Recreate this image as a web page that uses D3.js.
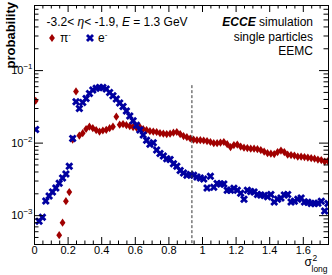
<!DOCTYPE html>
<html>
<head>
<meta charset="utf-8">
<script src="https://cdn.jsdelivr.net/npm/d3@7"></script>
<style>
  body { margin: 0; background: #fff; }
  text { font-family: "Liberation Sans", Arial, sans-serif; }
</style>
</head>
<body>
<div id="chart"></div>
<script>
// bin centres of sigma^2_long (bin width 0.02)
let binCenters = [
  0.01, 0.03, 0.05, 0.07, 0.09, 0.11, 0.13, 0.15, 0.17, 0.19,
  0.21, 0.23, 0.25, 0.27, 0.29, 0.31, 0.33, 0.35, 0.37, 0.39,
  0.41, 0.43, 0.45, 0.47, 0.49, 0.51, 0.53, 0.55, 0.57, 0.59,
  0.61, 0.63, 0.65, 0.67, 0.69, 0.71, 0.73, 0.75, 0.77, 0.79,
  0.81, 0.83, 0.85, 0.87, 0.89, 0.91, 0.93, 0.95, 0.97, 0.99,
  1.01, 1.03, 1.05, 1.07, 1.09, 1.11, 1.13, 1.15, 1.17, 1.19,
  1.21, 1.23, 1.25, 1.27, 1.29, 1.31, 1.33, 1.35, 1.37, 1.39,
  1.41, 1.43, 1.45, 1.47, 1.49, 1.51, 1.53, 1.55, 1.57, 1.59,
  1.61, 1.63, 1.65, 1.67, 1.69, 1.71, 1.73, 1.75
];

let pionProb = [
  0.0378, null, null, null, null, null, null, 0.00053, 0.000788, 0.00156,
  0.00208, 0.0110, 0.0508, 0.0125, 0.0135, 0.0154, 0.0166, 0.0158, 0.0149, 0.0142,
  0.0147, 0.0150, 0.0158, 0.0166, 0.0228, 0.0177, 0.0180, 0.0174, 0.0169, 0.0164,
  0.0161, 0.0164, 0.0154, 0.0149, 0.0144, 0.0142, 0.0140, 0.0135, 0.0133, 0.0131,
  0.0133, 0.0137, 0.0140, 0.0131, 0.0123, 0.0119, 0.0114, 0.0110, 0.0108, 0.0108,
  0.0107, 0.0105, 0.0102, 0.00984, 0.00984, 0.0100, 0.0102, 0.00953, 0.00867, 0.00925,
  0.00939, 0.00881, 0.00853, 0.00840, 0.00826, 0.00826, 0.00813, 0.00788, 0.00752, 0.00716,
  0.00705, 0.00694, 0.00740, 0.00776, 0.00740, 0.00683, 0.00673, 0.00662, 0.00641, 0.00641,
  0.00631, 0.00621, 0.00611, 0.00601, 0.00583, 0.00574, 0.00547, 0.00556
];

let electronProb = [
  0.0152, 0.000826, 0.000938, 0.00157, 0.00183, 0.00208, 0.00236, 0.00276, 0.00324, 0.00368,
  0.00474, 0.0114, 0.0365, 0.0296, 0.0358, 0.0407, 0.0477, 0.0530, 0.0560, 0.0577,
  0.0577, 0.0547, 0.0492, 0.0442, 0.0398, 0.0351, 0.0314, 0.0272, 0.0232, 0.0201,
  0.0174, 0.0149, 0.0127, 0.0108, 0.00953, 0.00993, 0.00788, 0.00710, 0.00652, 0.00601,
  0.00583, 0.00513, 0.00474, 0.00411, 0.00380, 0.00356, 0.00362, 0.00356, 0.00337, 0.00324,
  0.00314, 0.00236, 0.00345, 0.00243, 0.00274, 0.00268, 0.00268, 0.00221, 0.00221, 0.00234,
  0.00221, 0.00201, 0.00166, 0.00221, 0.00211, 0.00208, 0.00193, 0.00189, 0.00186, 0.00179,
  0.00193, 0.00152, 0.00166, 0.00173, 0.00189, 0.00193, 0.00152, 0.00156, 0.00166, 0.00173,
  0.00152, 0.00151, 0.00145, 0.00145, 0.00146, 0.00156, 0.00114, 0.00145
];

let xMajorTicks = [0, 0.2, 0.4, 0.6, 0.8, 1, 1.2, 1.4, 1.6];
let yMajorTicks = [1e-3, 1e-2, 1e-1];
let cutValue = 0.94;
let cutTop = 0.062;

let width = 332;
let height = 275;
let margin = { top: 5, right: 4, bottom: 31, left: 34 };
let pionColor = "#a00000";
let electronColor = "#0000a0";

let svg = d3.select("#chart")
  .append("svg")
  .attr("width", width)
  .attr("height", height);

let x = d3.scaleLinear()
  .domain([0, 1.75])
  .range([margin.left, width - margin.right]);

let y = d3.scaleLog()
  .domain([4e-4, 0.79])
  .range([height - margin.bottom, margin.top]);

let xMinorTicks = d3.range(0, 1.751, 0.05).filter(v => Math.abs(v / 0.2 - Math.round(v / 0.2)) > 1e-6);
let yMinorTicks = [];
[-4, -3, -2, -1].forEach(k => {
  for (let m = 2; m <= 9; m++) {
    let v = m * Math.pow(10, k);
    if (v > 4e-4 && v < 0.79) yMinorTicks.push(v);
  }
});

svg.append("clipPath").attr("id", "plotclip")
  .append("rect")
  .attr("x", margin.left)
  .attr("y", margin.top)
  .attr("width", width - margin.right - margin.left)
  .attr("height", height - margin.bottom - margin.top);

// markers
let pionData = binCenters.map((c, i) => ({ x: c, v: pionProb[i] })).filter(d => d.v != null);
let electronData = binCenters.map((c, i) => ({ x: c, v: electronProb[i] })).filter(d => d.v != null);

let diamond = "M0,-4.1L2.9,0L0,4.1L-2.9,0Z";
let xSymbol = d3.symbol(d3.symbolCross, 40)();

let marks = svg.append("g").attr("clip-path", "url(#plotclip)");

marks.selectAll(".pion")
  .data(pionData)
  .enter()
  .append("path")
  .attr("class", "pion")
  .attr("d", diamond)
  .attr("transform", d => `translate(${x(d.x)},${y(d.v)})`)
  .attr("fill", pionColor);

marks.selectAll(".ele")
  .data(electronData)
  .enter()
  .append("path")
  .attr("class", "ele")
  .attr("d", xSymbol)
  .attr("transform", d => `translate(${x(d.x)},${y(d.v)}) rotate(45)`)
  .attr("fill", electronColor);

// cut line
svg.append("line")
  .attr("x1", x(cutValue))
  .attr("x2", x(cutValue))
  .attr("y1", y(cutTop))
  .attr("y2", height - margin.bottom)
  .attr("stroke", "#333")
  .attr("stroke-width", 1)
  .attr("stroke-dasharray", "3,2");

// axes, ROOT style ticks inside the frame
function styleAxis(g) {
  g.select(".domain").remove();
  g.selectAll("line").attr("stroke", "#000");
  g.selectAll("text").attr("font-size", 11).attr("fill", "#000").attr("font-family", "Liberation Sans, Arial, sans-serif");
}

let bottom = height - margin.bottom;
let right = width - margin.right;

svg.append("g")
  .attr("transform", `translate(0,${bottom})`)
  .call(d3.axisBottom(x).tickValues(xMajorTicks).tickSize(-7).tickPadding(2.5)
    .tickFormat(d => String(+d.toFixed(1))))
  .call(styleAxis);

svg.append("g")
  .attr("transform", `translate(0,${bottom})`)
  .call(d3.axisBottom(x).tickValues(xMinorTicks).tickSize(-3.5).tickFormat(""))
  .call(styleAxis);

svg.append("g")
  .attr("transform", `translate(0,${margin.top})`)
  .call(d3.axisTop(x).tickValues(xMajorTicks).tickSize(-7).tickFormat(""))
  .call(styleAxis);

svg.append("g")
  .attr("transform", `translate(0,${margin.top})`)
  .call(d3.axisTop(x).tickValues(xMinorTicks).tickSize(-3.5).tickFormat(""))
  .call(styleAxis);

let yLeft = svg.append("g")
  .attr("transform", `translate(${margin.left},0)`)
  .call(d3.axisLeft(y).tickValues(yMajorTicks).tickSize(-9).tickPadding(1.5).tickFormat(""))
  .call(styleAxis);

yLeft.selectAll(".tick text")
  .each(function(d) {
    let t = d3.select(this);
    t.append("tspan").text("10");
    t.append("tspan")
      .attr("dy", "-5")
      .attr("font-size", 8)
      .text("\u2212" + Math.round(-Math.log10(d)));
  });

svg.append("g")
  .attr("transform", `translate(${margin.left},0)`)
  .call(d3.axisLeft(y).tickValues(yMinorTicks).tickSize(-4.5).tickFormat(""))
  .call(styleAxis);

svg.append("g")
  .attr("transform", `translate(${right},0)`)
  .call(d3.axisRight(y).tickValues(yMajorTicks).tickSize(-9).tickFormat(""))
  .call(styleAxis);

svg.append("g")
  .attr("transform", `translate(${right},0)`)
  .call(d3.axisRight(y).tickValues(yMinorTicks).tickSize(-4.5).tickFormat(""))
  .call(styleAxis);

// frame
svg.append("rect")
  .attr("x", margin.left + 0.5)
  .attr("y", margin.top + 0.5)
  .attr("width", right - margin.left)
  .attr("height", bottom - margin.top)
  .attr("fill", "none")
  .attr("stroke", "#000")
  .attr("stroke-width", 1);

// axis titles
svg.append("text")
  .attr("transform", "translate(14.5,2) rotate(-90)")
  .attr("text-anchor", "end")
  .attr("font-size", 13)
  .attr("font-weight", "bold")
  .text("probability");

let xt = svg.append("g");
xt.append("text").attr("x", 304.5).attr("y", 266).attr("font-size", 12).text("\u03c3");
xt.append("text").attr("x", 312.5).attr("y", 261).attr("font-size", 8.5).text("2");
xt.append("text").attr("x", 311.5).attr("y", 272).attr("font-size", 8.5).text("long");

// header text
let title = svg.append("text")
  .attr("x", 46.5)
  .attr("y", 26)
  .attr("font-size", 12);
title.append("tspan").text("-3.2< ");
title.append("tspan").attr("font-style", "italic").text("\u03b7");
title.append("tspan").text("< -1.9, ");
title.append("tspan").attr("font-style", "italic").text("E");
title.append("tspan").text(" = 1.3 GeV");

let ecce = svg.append("text")
  .attr("x", 313)
  .attr("y", 26)
  .attr("text-anchor", "end")
  .attr("font-size", 12);
ecce.append("tspan").attr("font-weight", "bold").attr("font-style", "italic").text("ECCE");
ecce.append("tspan").text(" simulation");

svg.append("text").attr("x", 313).attr("y", 41).attr("text-anchor", "end").attr("font-size", 12).text("single particles");
svg.append("text").attr("x", 313).attr("y", 55).attr("text-anchor", "end").attr("font-size", 12).text("EEMC");

// legend
let legend = svg.append("g");
legend.append("path")
  .attr("d", diamond)
  .attr("transform", "translate(52,38)")
  .attr("fill", pionColor);
let lp = legend.append("text").attr("x", 60).attr("y", 42).attr("font-size", 12);
lp.append("tspan").text("\u03c0");
lp.append("tspan").attr("dy", -5).attr("font-size", 8).text("-");

legend.append("path")
  .attr("d", xSymbol)
  .attr("transform", "translate(90,38) rotate(45)")
  .attr("fill", electronColor);
let le = legend.append("text").attr("x", 98).attr("y", 42).attr("font-size", 12);
le.append("tspan").text("e");
le.append("tspan").attr("dy", -5).attr("font-size", 8).text("-");
</script>
</body>
</html>
